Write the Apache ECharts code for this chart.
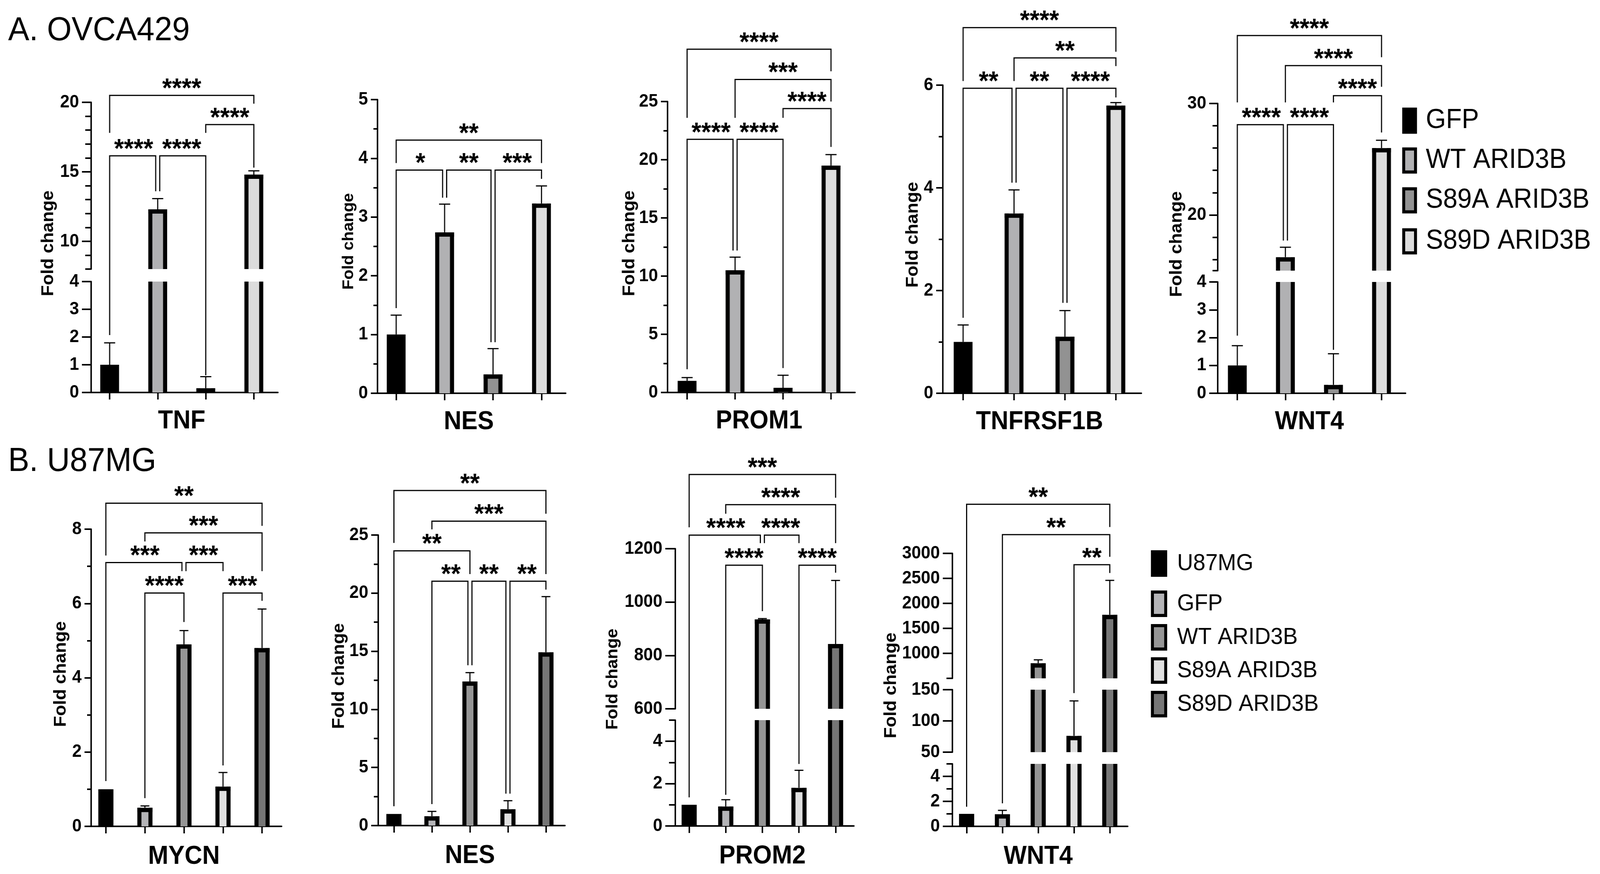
<!DOCTYPE html>
<html>
<head>
<meta charset="utf-8">
<title>ARID3B target genes</title>
<script src="https://cdn.jsdelivr.net/npm/echarts@6.0.0/dist/echarts.min.js"></script>
<style>
  html, body { margin: 0; padding: 0; background: #fff; overflow: hidden; }
  #chart { width: 4336px; height: 2238px; transform-origin: 0 0; }
</style>
</head>
<body>
<div id="chart"></div>
<script>
// groups and fills
var groupsA = ['GFP', 'WT ARID3B', 'S89A ARID3B', 'S89D ARID3B'];
var groupsB = ['U87MG', 'GFP', 'WT ARID3B', 'S89A ARID3B', 'S89D ARID3B'];
var coloursA = ['#000000', '#b1b1b3', '#929292', '#dcdcdc'];
var coloursB = ['#000000', '#b4b4b7', '#959595', '#e0e0e0', '#767676'];

// A. OVCA429 : mean fold change, upper error
var tnfMean = [1.0, 12.3, 0.15, 14.8];
var tnfErr = [0.79, 0.77, 0.42, 0.27];
var nesAMean = [1.0, 2.74, 0.32, 3.23];
var nesAErr = [0.33, 0.48, 0.44, 0.30];
var prom1Mean = [1.0, 10.5, 0.4, 19.5];
var prom1Err = [0.28, 1.13, 1.08, 0.94];
var tnfrMean = [1.0, 3.5, 1.1, 5.6];
var tnfrErr = [0.33, 0.46, 0.51, 0.06];
var wnt4AMean = [1.0, 16.2, 0.3, 26.0];
var wnt4AErr = [0.71, 0.9, 1.12, 0.7];

// B. U87MG
var mycnMean = [1.0, 0.5, 4.9, 1.07, 4.8];
var mycnErr = [0, 0.05, 0.37, 0.38, 1.05];
var nesBMean = [1.0, 0.8, 12.4, 1.4, 14.9];
var nesBErr = [0, 0.42, 0.76, 0.74, 4.8];
var prom2Mean = [1.0, 0.92, 935, 1.8, 843];
var prom2Err = [0, 0.32, 3, 0.83, 238];
var wnt4BMean = [1.0, 0.97, 800, 76, 1770];
var wnt4BErr = [0, 0.31, 70, 56, 690];

// significance brackets: [from, to, level, left leg end, right leg end, stars]
var tnfBrackets = [
  [0, 3, 20.5, 17.8, 19.9, '****'],
  [2, 3, 18.4, 17.8, 15.3, '****'],
  [0, 1, 16.15, 2.07, 13.6, '****'],
  [1, 2, 16.15, 13.6, 0.62, '****']
];
var nesABrackets = [
  [0, 3, 4.31, 3.92, 3.92, '**'],
  [0, 1, 3.8, 1.45, 3.33, '*'],
  [1, 2, 3.8, 3.33, 0.87, '**'],
  [2, 3, 3.8, 0.87, 3.65, '***']
];
var prom1Brackets = [
  [0, 3, 29.5, 23.6, 27.6, '****'],
  [1, 3, 26.9, 23.6, 25.0, '***'],
  [2, 3, 24.4, 23.6, 21.1, '****'],
  [0, 1, 21.75, 2.0, 12.2, '****'],
  [1, 2, 21.75, 12.2, 2.1, '****']
];
var tnfrBrackets = [
  [0, 3, 7.12, 6.08, 6.65, '****'],
  [1, 3, 6.53, 6.08, 6.37, '**'],
  [0, 1, 5.94, 1.47, 4.1, '**'],
  [1, 2, 5.94, 4.1, 1.76, '**'],
  [2, 3, 5.94, 1.76, 5.76, '****']
];
var wnt4ABrackets = [
  [0, 3, 36.1, 30.1, 34.15, '****'],
  [1, 3, 33.4, 30.1, 31.5, '****'],
  [2, 3, 30.7, 30.1, 27.4, '****'],
  [0, 1, 28.1, 2.07, 17.7, '****'],
  [1, 2, 28.1, 17.7, 1.56, '****']
];
var mycnBrackets = [
  [0, 4, 8.7, 7.29, 8.09, '**'],
  [1, 4, 7.9, 7.67, 6.87, '***'],
  [0, 2, 7.1, 1.22, 6.87, '***'],
  [2, 3, 7.1, 6.87, 6.87, '***'],
  [1, 2, 6.28, 0.76, 5.5, '****'],
  [3, 4, 6.28, 1.64, 6.07, '***']
];
var nesBBrackets = [
  [0, 4, 28.83, 24.32, 26.83, '**'],
  [1, 4, 26.19, 25.49, 21.64, '***'],
  [0, 2, 23.64, 1.66, 21.64, '**'],
  [1, 2, 21.03, 1.85, 13.79, '**'],
  [2, 3, 21.03, 13.79, 2.75, '**'],
  [3, 4, 21.03, 2.75, 20.3, '**']
];
var prom2Brackets = [
  [0, 4, 1478, 1280, 1391, '***'],
  [1, 4, 1365, 1331, 1221, '****'],
  [0, 2, 1251, 1.35, 1221, '****'],
  [2, 3, 1251, 1221, 1221, '****'],
  [1, 2, 1138, 1.47, 966, '****'],
  [3, 4, 1138, 2.93, 1110, '****']
];
var wnt4BBrackets = [
  [0, 4, 3983, 1.57, 3528, '**'],
  [1, 4, 3375, 1.84, 2932, '**'],
  [3, 4, 2773, 144.5, 2608, '**']
];

// tick labels and minor ticks
var tnfLowTicks = [0, 1, 2, 3, 4];
var tnfHighTicks = [10, 15, 20];
var tnfHighMinor = [8, 9, 11, 12, 13, 14, 16, 17, 18, 19];
var nesATicks = [0, 1, 2, 3, 4, 5];
var nesAMinor = [0.5, 1.5, 2.5, 3.5, 4.5];
var prom1Ticks = [0, 5, 10, 15, 20, 25];
var prom1Minor = [2.5, 7.5, 12.5, 17.5, 22.5];
var tnfrTicks = [0, 2, 4, 6];
var tnfrMinor = [1, 3, 5];
var wnt4ALowTicks = [0, 1, 2, 3, 4];
var wnt4AHighTicks = [20, 30];
var wnt4AHighMinor = [15, 16, 18, 22, 24, 26, 28];
var mycnTicks = [0, 2, 4, 6, 8];
var mycnMinor = [1, 3, 5, 7];
var nesBTicks = [0, 5, 10, 15, 20, 25];
var nesBMinor = [2.5, 7.5, 12.5, 17.5, 22.5];
var prom2LowTicks = [0, 2, 4];
var prom2LowMinor = [1, 3, 5];
var prom2HighTicks = [600, 800, 1000, 1200];
var wnt4BLowTicks = [0, 2, 4];
var wnt4BLowMinor = [1, 3, 5];
var wnt4BMidTicks = [50, 100, 150];
var wnt4BHighTicks = [1000, 1500, 2000, 2500, 3000];
var wnt4BHighMinor = [500];

var FONT = '"Liberation Sans", Arial, sans-serif';
var BORDER = 11;

// panel layout, segments listed from the bottom up
var panels = [
  { gene: 'TNF', groups: groupsA, colours: coloursA, mean: tnfMean, err: tnfErr, brackets: tnfBrackets,
    left: 232, width: 521, offset: -15, bar: 51, cap: 15, tick: 25, nameGap: 41, yName: [131, 623, 46],
    segments: [
      { min: 0, max: 4, top: 721, bottom: 1005, ticks: tnfLowTicks, minor: [] },
      { min: 8, max: 20, top: 262, bottom: 689, ticks: tnfHighTicks, minor: tnfHighMinor }
    ] },
  { gene: 'NES', groups: groupsA, colours: coloursA, mean: nesAMean, err: nesAErr, brackets: nesABrackets,
    left: 1008, width: 525, offset: -15, bar: 51, cap: 15, tick: 18, nameGap: 41, yName: [945, 618, 42],
    segments: [{ min: 0, max: 5, top: 255, bottom: 1007, ticks: nesATicks, minor: nesAMinor }] },
  { gene: 'PROM1', groups: groupsA, colours: coloursA, mean: prom1Mean, err: prom1Err, brackets: prom1Brackets,
    left: 1797, width: 520, offset: -12, bar: 51, cap: 15, tick: 18, nameGap: 41, yName: [1706, 623, 46],
    segments: [{ min: 0, max: 25, top: 260, bottom: 1005, ticks: prom1Ticks, minor: prom1Minor }] },
  { gene: 'TNFRSF1B', groups: groupsA, colours: coloursA, mean: tnfrMean, err: tnfrErr, brackets: tnfrBrackets,
    left: 2541, width: 552, offset: -14, bar: 51, cap: 15, tick: 18, nameGap: 41, yName: [2474, 601, 46],
    segments: [{ min: 0, max: 6, top: 218, bottom: 1007, ticks: tnfrTicks, minor: tnfrMinor }] },
  { gene: 'WNT4', groups: groupsA, colours: coloursA, mean: wnt4AMean, err: wnt4AErr, brackets: wnt4ABrackets,
    left: 3288, width: 521, offset: -12, bar: 51, cap: 15, tick: 23, nameGap: 41, yName: [3189, 625, 46],
    segments: [
      { min: 0, max: 4, top: 722, bottom: 1007, ticks: wnt4ALowTicks, minor: [] },
      { min: 15, max: 30, top: 265, bottom: 693, ticks: wnt4AHighTicks, minor: wnt4AHighMinor }
    ] },
  { gene: 'MYCN', groups: groupsB, colours: coloursB, mean: mycnMean, err: mycnErr, brackets: mycnBrackets,
    left: 234, width: 529, offset: -13, bar: 41, cap: 12, tick: 18, nameGap: 45, yName: [165, 1726, 46],
    segments: [{ min: 0, max: 8, top: 1355, bottom: 2116, ticks: mycnTicks, minor: mycnMinor }] },
  { gene: 'NES', groups: groupsB, colours: coloursB, mean: nesBMean, err: nesBErr, brackets: nesBBrackets,
    left: 1016, width: 515, offset: -9, bar: 41, cap: 12, tick: 19, nameGap: 45, yName: [919, 1731, 46],
    segments: [{ min: 0, max: 25, top: 1370, bottom: 2114, ticks: nesBTicks, minor: nesBMinor }] },
  { gene: 'PROM2', groups: groupsB, colours: coloursB, mean: prom2Mean, err: prom2Err, brackets: prom2Brackets,
    left: 1818, width: 496, offset: -12, bar: 41, cap: 12, tick: 27, nameGap: 45, yName: [1661, 1739, 44],
    segments: [
      { min: 0, max: 5, top: 1844, bottom: 2115, ticks: prom2LowTicks, minor: prom2LowMinor },
      { min: 600, max: 1200, top: 1405, bottom: 1815, ticks: prom2HighTicks, minor: [] }
    ] },
  { gene: 'WNT4', groups: groupsB, colours: coloursB, mean: wnt4BMean, err: wnt4BErr, brackets: wnt4BBrackets,
    left: 2571, width: 485, offset: -10, bar: 41, cap: 12, tick: 26, nameGap: 45, yName: [2415, 1755, 46],
    segments: [
      { min: 0, max: 5, top: 1956, bottom: 2116, ticks: wnt4BLowTicks, minor: wnt4BLowMinor },
      { min: 50, max: 150, top: 1766, bottom: 1926, ticks: wnt4BMidTicks, minor: [] },
      { min: 500, max: 3000, top: 1417, bottom: 1737, ticks: wnt4BHighTicks, minor: wnt4BHighMinor }
    ] }
];

var legends = [
  { groups: groupsA, colours: coloursA, x: 3800, w: 40, h: 67, textX: 3864, size: 70, rows: [309, 411, 513, 618] },
  { groups: groupsB, colours: coloursB, x: 3119, w: 44, h: 68, textX: 3190, size: 60, rows: [1443, 1546, 1632, 1717, 1803] }
];

// the layout is written for a 4336 x 2238 page; stretch it onto the real viewport
var chartDom = document.getElementById('chart');
var fitX = window.innerWidth / 4336;
var fitY = window.innerHeight / 2238;
if (fitX > 0 && fitY > 0 && (Math.abs(fitX - 1) > 0.001 || Math.abs(fitY - 1) > 0.001)) {
  chartDom.style.transform = 'scale(' + fitX + ',' + fitY + ')';
}
var myChart = echarts.init(chartDom, null, { renderer: 'canvas' });

var lineStyle = { color: '#000', width: 4 };

var barRenderer = function (p) {
  return function (params, api) {
    var i = api.value(0);
    var v = api.value(1);
    var cs = params.coordSys;
    var topPt = api.coord([i, v]);
    var basePt = api.coord([i, 0]);
    var y0 = Math.max(topPt[1], cs.y);
    var y1 = Math.min(basePt[1], cs.y + cs.height);
    if (y1 <= y0) {
      return null;
    }
    var w = p.bar;
    var x0 = topPt[0] - w / 2;
    var colour = p.colours[i];
    var children = [{ type: 'rect', shape: { x: x0, y: y0, width: w, height: y1 - y0 }, style: { fill: colour } }];
    if (colour !== '#000000') {
      var st = { stroke: '#000', lineWidth: BORDER };
      children.push({ type: 'line', shape: { x1: x0 + BORDER / 2, y1: y0, x2: x0 + BORDER / 2, y2: y1 }, style: st });
      children.push({ type: 'line', shape: { x1: x0 + w - BORDER / 2, y1: y0, x2: x0 + w - BORDER / 2, y2: y1 }, style: st });
      if (topPt[1] >= cs.y) {
        children.push({ type: 'line', shape: { x1: x0, y1: topPt[1] + BORDER / 2, x2: x0 + w, y2: topPt[1] + BORDER / 2 }, style: st });
      }
    }
    return { type: 'group', children: children };
  };
};

var errRenderer = function (p) {
  return function (params, api) {
    var i = api.value(0);
    var v = api.value(1);
    var e = api.value(2);
    var a = api.coord([i, v]);
    var t = api.coord([i, v + e]);
    var st = { stroke: '#000', lineWidth: 3 };
    return {
      type: 'group',
      children: [
        { type: 'line', shape: { x1: a[0], y1: a[1], x2: t[0], y2: t[1] }, style: st },
        { type: 'line', shape: { x1: t[0] - p.cap, y1: t[1], x2: t[0] + p.cap, y2: t[1] }, style: st }
      ]
    };
  };
};

var plainNumber = function (v) {
  return String(v);
};

var grids = [];
var xAxes = [];
var yAxes = [];
var series = [];

panels.forEach(function (p) {
  p.segments.forEach(function (s, si) {
    var gi = grids.length;
    var isBase = si === 0;
    grids.push({ left: p.left, width: p.width, top: s.top, height: s.bottom - s.top, outerBoundsMode: 'none' });
    xAxes.push({
      gridIndex: gi,
      type: 'category',
      data: p.groups,
      show: isBase,
      boundaryGap: true,
      axisLine: { show: true, lineStyle: lineStyle },
      axisTick: { show: true, alignWithLabel: true, interval: 0, length: 18, lineStyle: lineStyle },
      axisLabel: { show: false },
      splitLine: { show: false },
      name: isBase ? p.gene : '',
      nameLocation: 'middle',
      nameGap: p.nameGap,
      nameTextStyle: { fontFamily: FONT, fontWeight: 'bold', fontSize: 66, color: '#000', verticalAlign: 'top' }
    });
    var yMain = yAxes.length;
    yAxes.push({
      gridIndex: gi,
      type: 'value',
      position: 'left',
      offset: p.offset,
      min: s.min,
      max: s.max,
      axisLine: { show: true, onZero: false, lineStyle: lineStyle },
      axisTick: { show: true, customValues: s.ticks, length: p.tick, lineStyle: lineStyle },
      axisLabel: {
        show: true, customValues: s.ticks, margin: p.tick + 8, formatter: plainNumber,
        fontFamily: FONT, fontWeight: 'bold', fontSize: 46, color: '#000'
      },
      splitLine: { show: false }
    });
    yAxes.push({
      gridIndex: gi,
      type: 'value',
      position: 'left',
      offset: p.offset,
      min: s.min,
      max: s.max,
      axisLine: { show: false, onZero: false },
      axisTick: { show: s.minor.length > 0, customValues: s.minor.length ? s.minor : [s.min], length: Math.round(p.tick * 0.62), lineStyle: lineStyle },
      axisLabel: { show: false },
      splitLine: { show: false }
    });

    var errData = [];
    p.mean.forEach(function (v, i) {
      if (p.err[i] > 0 && v >= s.min && v <= s.max) {
        errData.push([i, v, p.err[i]]);
      }
    });
    if (errData.length) {
      series.push({
        type: 'custom', xAxisIndex: gi, yAxisIndex: yMain, data: errData,
        encode: { x: 0, y: 1 }, renderItem: errRenderer(p), silent: true, z: 2, clip: false
      });
    }
    s.seriesIndex = series.length;
    series.push({
      type: 'custom', xAxisIndex: gi, yAxisIndex: yMain,
      data: p.mean.map(function (v, i) { return [i, v]; }),
      encode: { x: 0, y: 1 }, renderItem: barRenderer(p), silent: true, z: 3, clip: false
    });
  });
});

var option = {
  backgroundColor: '#ffffff',
  animation: false,
  title: [
    { text: 'A. OVCA429', left: 22, top: 36, padding: 0, textStyle: { fontFamily: FONT, fontWeight: 'normal', fontSize: 86, color: '#000' } },
    { text: 'B. U87MG', left: 22, top: 1139, padding: 0, textStyle: { fontFamily: FONT, fontWeight: 'normal', fontSize: 86, color: '#000' } }
  ],
  grid: grids,
  xAxis: xAxes,
  yAxis: yAxes,
  series: series
};
myChart.setOption(option);

// brackets cross segment grids, so place them through each grid's scale
var pickSegment = function (p, v) {
  for (var k = 0; k < p.segments.length; k++) {
    if (v <= p.segments[k].max) {
      return p.segments[k];
    }
  }
  return p.segments[p.segments.length - 1];
};
var toPixel = function (p, idx, v) {
  var seg = pickSegment(p, v);
  return myChart.convertToPixel({ seriesIndex: seg.seriesIndex }, [idx, v]);
};

var graphics = [];
var textEl = function (x, y, text, size, weight, align, rotation) {
  return {
    type: 'text', x: x, y: y, rotation: rotation || 0, z: 10,
    style: {
      text: text, fill: '#000',
      font: weight + ' ' + size + 'px ' + FONT,
      align: align, verticalAlign: 'middle',
      textAlign: align, textVerticalAlign: 'middle'
    }
  };
};

panels.forEach(function (p) {
  var list = p.brackets;
  list.forEach(function (b) {
    var sameLevel = function (o) { return o !== b && o[2] === b[2]; };
    var leftShared = list.some(function (o) { return sameLevel(o) && o[1] === b[0]; });
    var rightShared = list.some(function (o) { return sameLevel(o) && o[0] === b[1]; });
    var hL = toPixel(p, b[0], b[2]);
    var hR = toPixel(p, b[1], b[2]);
    var legL = toPixel(p, b[0], b[3]);
    var legR = toPixel(p, b[1], b[4]);
    var xL = hL[0] + (leftShared ? 5.5 : 0);
    var xR = hR[0] - (rightShared ? 5.5 : 0);
    graphics.push({
      type: 'polyline', z: 10,
      shape: { points: [[xL, legL[1]], [xL, hL[1]], [xR, hR[1]], [xR, legR[1]]] },
      style: { stroke: '#000', lineWidth: 3, fill: null, lineJoin: 'miter' }
    });
    graphics.push(textEl((hL[0] + hR[0]) / 2, hL[1] - 15, b[5], 68, 'bold', 'center'));
  });
  graphics.push(textEl(p.yName[0], p.yName[1], 'Fold change', p.yName[2], 'bold', 'center', Math.PI / 2));
});

legends.forEach(function (lg) {
  lg.groups.forEach(function (g, i) {
    var cy = lg.rows[i];
    var black = lg.colours[i] === '#000000';
    graphics.push({
      type: 'rect', z: 10,
      shape: black ? { x: lg.x, y: cy - lg.h / 2, width: lg.w, height: lg.h }
                   : { x: lg.x + 4, y: cy - lg.h / 2 + 4, width: lg.w - 8, height: lg.h - 8 },
      style: { fill: lg.colours[i], stroke: '#000', lineWidth: black ? 0 : 8 }
    });
    graphics.push(textEl(lg.textX, cy, g, lg.size, 'normal', 'left'));
  });
});

myChart.setOption({ graphic: { elements: graphics } });
</script>
</body>
</html>
